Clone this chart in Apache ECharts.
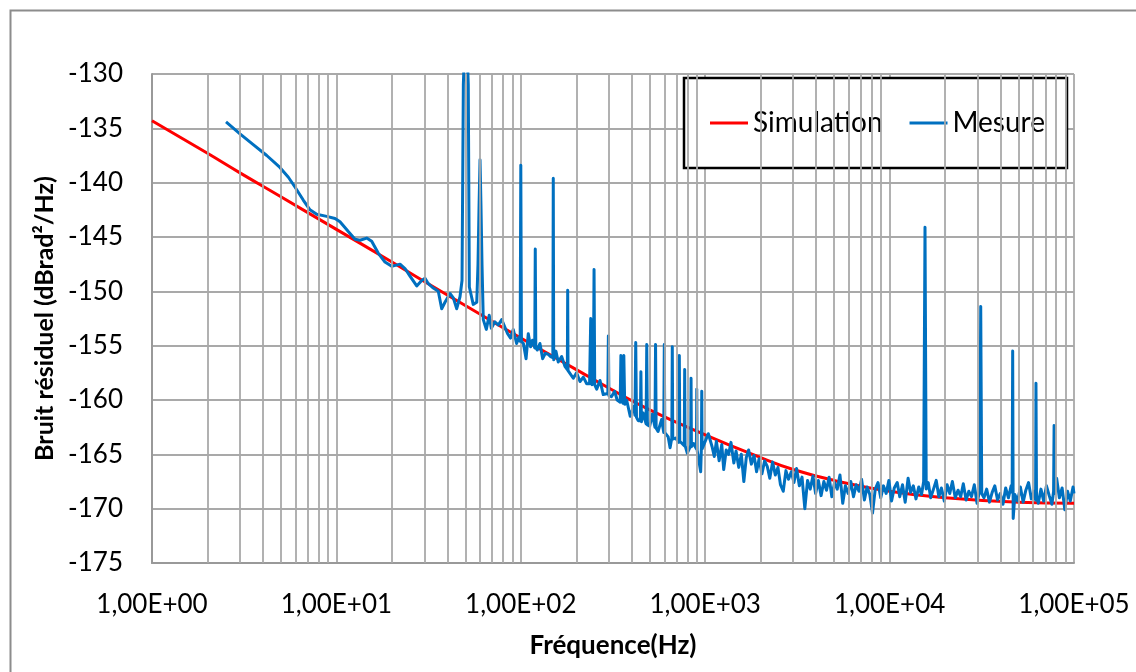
<!DOCTYPE html>
<html>
<head>
<meta charset="utf-8">
<title>Bruit résiduel</title>
<script src="https://cdn.jsdelivr.net/npm/echarts@6/dist/echarts.min.js"></script>
<style>
  html, body { margin: 0; padding: 0; background: #fff; }
  #chart { width: 1136px; height: 672px; }
</style>
</head>
<body>
<div id="chart"></div>
<script>
// axes
const yTicks = [-175, -170, -165, -160, -155, -150, -145, -140, -135, -130]
const xTickLabels = ['1,00E+00', '1,00E+01', '1,00E+02', '1,00E+03', '1,00E+04', '1,00E+05']
// lignes de grille secondaires (2..9 par décade)
const minorFreq = [
  2, 3, 4, 5, 6, 7, 8, 9,
  20, 30, 40, 50, 60, 70, 80, 90,
  200, 300, 400, 500, 600, 700, 800, 900,
  2000, 3000, 4000, 5000, 6000, 7000, 8000, 9000,
  20000, 30000, 40000, 50000, 60000, 70000, 80000, 90000
]

// Simulation
const simFreq = [1, 2, 3, 5, 10, 20, 30, 50, 100, 200, 300, 500, 1000, 2000, 3000, 5000, 10000, 20000, 50000, 100000]
const simVal = [-134.3, -137.3, -139.1, -141.3, -144.3, -147.3, -149.1, -151.3, -154.3, -157.2, -158.9, -160.9,
  -163.2, -165.3, -166.4, -167.4, -168.4, -169.0, -169.4, -169.5]

// Mesure
const mesFreq = [
  2.52, 3.0, 3.54, 4.19, 4.94, 5.49, 5.96, 6.61, 7.19, 7.82, 8.86, 9.83, 10.46, 11.6, 12.62, 13.43, 14.6, 15.54,
  16.88, 18.34, 19.95, 22.13, 23.55, 25.07, 27.26, 29.01, 30.24, 31.51, 33.54, 35.69, 37.24, 38.81, 41.3, 43.05,
  44.93, 46.8, 48.0, 48.8, 50.3, 51.9, 52.6, 55.2, 57.7, 58.6, 59.4, 60.1, 60.8, 61.6, 62.6, 65.0, 67.4, 69.2,
  72.3, 75.5, 78.8, 82.4, 84.8, 88.0, 91.0, 94.9, 97.8, 99.2, 100, 100.8, 103.3, 106.8, 109.8, 113, 115.7, 119,
  119.8, 120.6, 123, 127, 131.4, 135.8, 141, 145.2, 149.2, 150, 150.8, 155, 159.6, 166.5, 173.5, 178.8, 179.6,
  180.4, 184.8, 192.6, 200.6, 209.5, 218.4, 227.7, 236, 239.5, 243, 247.5, 249.6, 251.7, 258, 268.8, 280, 296.5,
  298.5, 300.5, 310, 323, 333, 346, 349, 352, 358, 362, 366, 375, 392, 409, 416, 420, 424, 433, 445, 448, 451,
  461, 478, 482, 486, 500, 517, 534, 538, 542, 555, 580, 596, 600, 604, 630, 645, 659, 663, 667, 690, 720, 724,
  728, 740, 770, 774, 778, 800, 834, 838, 842, 865, 896, 900, 904, 945, 954, 958, 962, 1040, 1090,
  1120, 1150, 1190, 1230, 1260, 1300, 1340, 1380, 1430, 1470, 1520, 1570, 1620, 1670, 1720, 1780, 1840, 1900,
  1960, 2030, 2100, 2170, 2240, 2320, 2400, 2480, 2560, 2650, 2740, 2830, 2930, 3030, 3130, 3240, 3350, 3470,
  3590, 3710, 3840, 3970, 4110, 4250, 4400, 4550, 4700, 4860, 5030, 5200, 5380, 5570, 5760, 5960, 6160, 6370,
  6590, 6820, 7050, 7300, 7550, 7810, 8080, 8360, 8650, 8950, 9260, 9580, 9910,
  10250, 10600, 11000, 11350, 11750, 12150, 12600, 13000, 13450, 13900, 14400, 14900, 15300, 15560, 15800,
  16200, 16700, 17300, 17900, 18500, 19100, 19800, 20500, 21200, 21900, 22700, 23500, 24300, 25100, 26000,
  26900, 27800, 28800, 29800, 30800, 31200, 31600, 32500, 33600, 34800, 36000, 37200, 38500, 39800, 41200,
  42600, 44100, 45600, 46200, 46500, 46800, 47800, 49500, 51200, 53000, 54800, 56700, 58700, 60700, 61900,
  62200, 62600, 64000, 66200, 68500, 70900, 73400, 75900, 77500, 78000, 78500, 80500, 83300, 86200, 89200,
  92300, 95500, 98800, 100000
]
const mesVal = [
  -134.4, -135.5, -136.5, -137.5, -138.6, -139.5, -140.4, -141.6, -142.5, -142.9, -143.1, -143.3, -143.6, -144.5,
  -145.2, -145.3, -145.1, -145.4, -146.5, -147.3, -147.7, -147.5, -147.9, -148.6, -149.5, -149.0, -148.8, -149.3,
  -149.7, -150.0, -151.6, -151.0, -150.2, -150.6, -151.6, -150.5, -149.0, -131, -124, -131, -149.6, -151.2,
  -151.0, -147.5, -142, -137.9, -142, -147.5, -152.6, -153.5, -152.2, -153.4, -152.8, -153.1, -152.6, -153.4,
  -153.9, -154.3, -153.5, -154.8, -154.2, -154.6, -138.4, -154.6, -154.8, -156.2, -153.9, -155.1, -154.5,
  -155.2, -146.1, -155.2, -155.4, -154.8, -156.2, -155.7, -155.8, -156.0, -156.1, -139.6, -156.3, -155.5,
  -156.5, -156.0, -156.9, -157.2, -149.9, -157.3, -157.2, -158.0, -157.5, -158.3, -157.9, -158.5, -158.5,
  -152.5, -158.6, -158.2, -148.0, -158.6, -159.0, -158.2, -159.5, -159.4, -154.1, -159.6, -159.7, -159.2,
  -160.0, -160.2, -155.9, -160.0, -160.3, -155.9, -160.4, -160.0, -161.5, -160.6, -161.4, -154.7, -161.6,
  -161.9, -161.9, -157.4, -162.0, -161.2, -162.2, -154.9, -162.3, -162.4, -161.3, -162.5, -154.9, -162.6,
  -162.9, -161.8, -163.0, -154.9, -163.0, -163.4, -164.4, -163.5, -155.1, -163.6, -163.5, -163.9, -155.9,
  -163.8, -163.7, -164.2, -157.2, -164.2, -164.9, -164.2, -158.0, -164.3, -164.0, -164.5, -159.0, -164.6,
  -166.6, -164.3, -159.2, -164.5, -163.1, -164.3,
  -165.2, -163.8, -165.6, -164.1, -166.4, -164.6, -165.0, -163.9, -165.8, -164.7, -166.2, -165.0, -167.5,
  -165.3, -164.6, -165.9, -165.1, -166.6, -165.4, -166.8, -165.6, -166.1, -167.2, -165.7, -166.9, -166.2,
  -167.8, -168.4, -166.5, -167.3, -166.6, -167.6, -166.3, -167.9, -167.1, -170.0, -167.4, -168.2, -167.0,
  -168.6, -167.4, -168.8, -167.5, -168.3, -167.1, -168.9, -167.6, -168.2, -166.9, -169.5, -167.9, -168.6,
  -167.5, -168.9, -167.8, -168.4, -167.3, -169.2, -168.0, -168.7, -170.4, -168.2, -167.6, -169.0, -167.9,
  -168.6, -167.4,
  -169.3, -168.1, -167.6, -168.9, -167.8, -169.4, -167.2, -168.5, -167.9, -169.1, -168.0, -168.7, -167.5,
  -144.1, -168.2, -167.6, -169.0, -168.2, -167.4, -168.9, -168.1, -169.3, -167.8, -168.6, -167.5, -169.0,
  -168.3, -168.9, -167.7, -169.2, -168.4, -168.9, -167.8, -169.5, -168.3, -151.4, -168.6, -169.0, -168.2,
  -169.4, -168.5, -167.9, -169.2, -168.6, -169.6, -168.1, -169.0, -167.9, -168.5, -155.5, -170.9, -168.7,
  -169.3, -168.0, -169.4, -168.3, -167.6, -169.1, -168.4, -169.2, -158.45, -168.8, -169.5, -168.2, -169.3,
  -167.9, -168.8, -169.6, -168.4, -162.35, -168.6, -167.2, -169.0, -168.1, -170.1, -168.4, -169.3, -168.0,
  -168.6
]

const FONT = 'Lato'
const GRID_COLOR = '#a9a9a9'

const chart = echarts.init(document.getElementById('chart'), null, { renderer: 'canvas' })

chart.setOption({
  animation: false,
  backgroundColor: '#fff',
  textStyle: { fontFamily: FONT, color: '#000' },
  graphic: [{
    type: 'rect',
    left: 8, top: 8,
    shape: { width: 1140, height: 680 },
    style: { fill: 'none', stroke: '#8c8c8c', lineWidth: 2 },
    silent: true
  }],
  grid: { left: 152, right: 62, top: 74, bottom: 109, containLabel: false },
  legend: {
    data: ['Simulation', 'Mesure'],
    left: 684, top: 78,
    padding: [31, 22, 31, 26],
    itemGap: 27,
    itemWidth: 38, itemHeight: 3,
    icon: 'rect',
    backgroundColor: '#fff',
    borderColor: '#000',
    borderWidth: 2.5,
    textStyle: { fontFamily: FONT, fontSize: 28, color: '#000' }
  },
  xAxis: {
    type: 'log',
    logBase: 10,
    min: 1, max: 100000,
    name: 'Fréquence(Hz)',
    nameLocation: 'middle',
    nameGap: 70,
    nameTextStyle: { fontFamily: FONT, fontSize: 26, fontWeight: 'bold', color: '#000' },
    axisLine: { show: true, lineStyle: { color: '#999', width: 2 } },
    axisTick: { show: false },
    axisLabel: {
      fontFamily: FONT, fontSize: 26, color: '#000', margin: 29,
      formatter: v => xTickLabels[Math.round(Math.log10(v))]
    },
    splitLine: { show: true, lineStyle: { color: GRID_COLOR, width: 1.8 } }
  },
  yAxis: {
    type: 'value',
    min: yTicks[0], max: yTicks[yTicks.length - 1], interval: 5,
    name: 'Bruit résiduel (dBrad²/Hz)',
    nameLocation: 'middle',
    nameGap: 92,
    nameTextStyle: { fontFamily: FONT, fontSize: 25, fontWeight: 'bold', color: '#000' },
    axisLine: { show: true, lineStyle: { color: '#999', width: 2 } },
    axisTick: { show: false },
    axisLabel: { fontFamily: FONT, fontSize: 26, color: '#000', margin: 29 },
    splitLine: { show: true, lineStyle: { color: GRID_COLOR, width: 1.8 } }
  },
  series: [
    {
      name: 'grille',
      type: 'line',
      data: [],
      silent: true,
      z: 1,
      markLine: {
        silent: true,
        symbol: 'none',
        label: { show: false },
        lineStyle: { color: GRID_COLOR, width: 1.8, type: 'solid' },
        data: minorFreq.map(f => ({ xAxis: f }))
      }
    },
    {
      name: 'Simulation',
      type: 'line',
      data: simFreq.map((f, i) => [f, simVal[i]]),
      showSymbol: false,
      smooth: true,
      z: 3,
      lineStyle: { color: '#ff0000', width: 3 },
      itemStyle: { color: '#ff0000' }
    },
    {
      name: 'Mesure',
      type: 'line',
      data: mesFreq.map((f, i) => [f, mesVal[i]]),
      showSymbol: false,
      z: 4,
      lineStyle: { color: '#0070c0', width: 3, join: 'round' },
      itemStyle: { color: '#0070c0' }
    }
  ]
})
</script>
</body>
</html>
